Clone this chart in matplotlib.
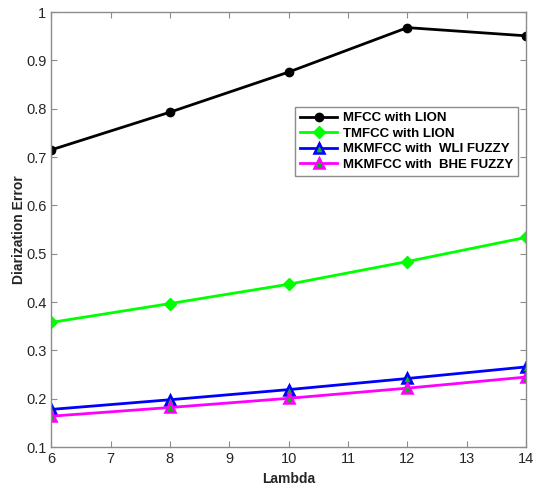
import matplotlib
matplotlib.use('Agg')
import matplotlib.pyplot as plt

plt.rcParams['font.family'] = ['Liberation Sans', 'DejaVu Sans']

# data
lam = [6, 8, 10, 12, 14]
mfcc_lion = [0.715, 0.793, 0.876, 0.968, 0.951]
tmfcc_lion = [0.358, 0.397, 0.437, 0.484, 0.534]
mkmfcc_wli = [0.178, 0.198, 0.219, 0.242, 0.266]
mkmfcc_bhe = [0.164, 0.182, 0.201, 0.222, 0.245]

fig = plt.figure(figsize=(5.33, 4.86), dpi=100)
ax = fig.add_axes([0.096, 0.080, 0.891, 0.895])

ax.plot(lam, mfcc_lion, '-o', color='black', lw=2, ms=6,
        mfc='black', label='MFCC with LION')
ax.plot(lam, tmfcc_lion, '-D', color='#00ff00', lw=2, ms=6.5,
        mfc='#00ff00', label='TMFCC with LION')
ax.plot(lam, mkmfcc_wli, '-^', color='blue', lw=2, ms=7, mew=1.8,
        mfc='#00c000', label='MKMFCC with  WLI FUZZY')
ax.plot(lam, mkmfcc_bhe, '-^', color='magenta', lw=2, ms=7, mew=1.8,
        mfc='#00c000', label='MKMFCC with  BHE FUZZY')

ax.set_xlim(6, 14)
ax.set_ylim(0.1, 1)
ax.set_xticks(range(6, 15))
ax.set_yticks([0.1, 0.2, 0.3, 0.4, 0.5, 0.6, 0.7, 0.8, 0.9, 1.0])
ax.set_yticklabels(['0.1', '0.2', '0.3', '0.4', '0.5', '0.6', '0.7', '0.8', '0.9', '1'])

for s in ax.spines.values():
    s.set_color('#8c8c8c')
    s.set_linewidth(1)
ax.tick_params(direction='in', length=4, colors='#8c8c8c', labelcolor='#262626',
               labelsize=10.5, top=True, right=True)

ax.set_xlabel('Lambda', fontsize=10, fontweight='bold', color='#262626', labelpad=4)
ax.set_ylabel('Diarization Error', fontsize=10, fontweight='bold', color='#262626', labelpad=0)

leg = ax.legend(loc='upper left', bbox_to_anchor=(0.500, 0.798),
                prop={'weight': 'bold', 'size': 9.5}, fancybox=False,
                framealpha=1, edgecolor='#8c8c8c', handlelength=2.8,
                borderpad=0.4, labelspacing=0.25, handletextpad=0.4)
leg.get_frame().set_linewidth(1)

fig.savefig('out.png', dpi=100)
